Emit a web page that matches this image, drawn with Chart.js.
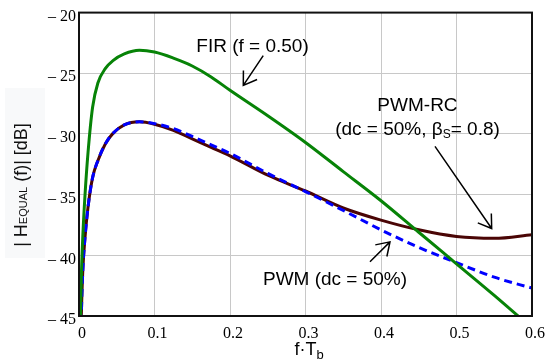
<!DOCTYPE html>
<html>
<head>
<meta charset="utf-8">
<script src="https://cdn.jsdelivr.net/npm/chart.js@4.4.0/dist/chart.umd.min.js"></script>
<style>
    html, body { margin: 0; padding: 0; background: #fff; }
    #wrap { width: 553px; height: 363px; }
</style>
</head>
<body>
<div id="wrap"><canvas id="chart" width="553" height="363"></canvas></div>
<script>
// normalised frequency f*Tb
const freq = [0.001, 0.003, 0.005, 0.008, 0.012, 0.018, 0.025, 0.035, 0.045, 0.06, 0.08, 0.1,
              0.125, 0.15, 0.175, 0.2, 0.25, 0.3, 0.35, 0.4, 0.45, 0.5, 0.55, 0.6];

// |H_EQUAL(f)| in dB
const firDb   = [-48, -42, -38.5, -35, -31.5, -27.8, -25.8, -24.6, -23.95, -23.4, -23.1, -23.25,
                 -23.75, -24.4, -25.3, -26.4, -28.5, -30.7, -33.1, -35.5, -38.1, -40.7, -43.3, -46];
const pwmRcDb = [-52, -45.2, -41.3, -38.5, -36.0, -33.6, -32.2, -30.8, -29.95, -29.25, -29.0, -29.2,
                 -29.7, -30.4, -31.1, -31.8, -33.4, -34.7, -36.1, -37.1, -37.9, -38.45, -38.6, -38.3];
const pwmDb   = [-52, -45.2, -41.3, -38.5, -36.0, -33.6, -32.2, -30.8, -29.95, -29.25, -29.0, -29.15,
                 -29.55, -30.2, -30.9, -31.6, -33.25, -34.75, -36.3, -37.9, -39.35, -40.6, -41.8, -42.7];

const xTicks = [0, 0.1, 0.2, 0.3, 0.4, 0.5, 0.6];
const xTickLabels = ['0', '0.1', '0.2', '0.3', '0.4', '0.5', '0.6'];
const yTicks = [-45, -40, -35, -30, -25, -20];
const yTickLabels = ['\u2013 45', '\u2013 40', '\u2013 35', '\u2013 30', '\u2013 25', '\u2013 20'];

const SANS = '"Liberation Sans", Arial, sans-serif';
const SERIF = '"Liberation Serif", "Times New Roman", serif';

function toPoints(ys) {
    return freq.map((f, i) => ({ x: f, y: ys[i] }));
}

// draw a row of text runs (different sizes / baseline shifts), centred on cx
function drawRuns(ctx, runs, cx, baseline) {
    let total = 0;
    runs.forEach(r => {
        ctx.font = r.size + 'px ' + SANS;
        r.w = ctx.measureText(r.text).width;
        total += r.w;
    });
    let x = cx - total / 2;
    ctx.textAlign = 'left';
    ctx.textBaseline = 'alphabetic';
    runs.forEach(r => {
        ctx.font = r.size + 'px ' + SANS;
        ctx.fillText(r.text, x, baseline + (r.dy || 0));
        x += r.w;
    });
}

function drawArrow(ctx, x1, y1, x2, y2) {
    const ang = Math.atan2(y1 - y2, x1 - x2);
    const len = 15, spread = 0.58;
    ctx.beginPath();
    ctx.moveTo(x1, y1);
    ctx.lineTo(x2, y2);
    ctx.moveTo(x2 + len * Math.cos(ang + spread), y2 + len * Math.sin(ang + spread));
    ctx.lineTo(x2, y2);
    ctx.lineTo(x2 + len * Math.cos(ang - spread), y2 + len * Math.sin(ang - spread));
    ctx.stroke();
}

const decorations = {
    id: 'decorations',
    beforeDraw(chart) {
        const ctx = chart.ctx;
        ctx.save();
        ctx.fillStyle = '#f8f9fa';
        ctx.fillRect(5, 88, 40, 170);
        ctx.restore();
    },
    afterDraw(chart) {
        const ctx = chart.ctx;
        const xs = chart.scales.x, ys = chart.scales.y;
        const a = chart.chartArea;
        const px = v => xs.getPixelForValue(v);
        const py = v => ys.getPixelForValue(v);

        ctx.save();
        // plot frame
        ctx.strokeStyle = '#111';
        ctx.lineWidth = 2;
        ctx.strokeRect(a.left, a.top, a.right - a.left, a.bottom - a.top);

        // annotations
        ctx.fillStyle = '#000';
        drawRuns(ctx, [{ text: 'FIR (f = 0.50)', size: 19 }], px(0.2298), py(-22.71) + 7);
        drawRuns(ctx, [{ text: 'PWM-RC', size: 19 }], px(0.4483), py(-27.51) + 7);
        drawRuns(ctx, [
            { text: '(dc = 50%, \u03b2', size: 19 },
            { text: 'S', size: 12, dy: 3 },
            { text: '= 0.8)', size: 19 }
        ], px(0.4483), py(-29.57) + 6);
        drawRuns(ctx, [{ text: 'PWM (dc = 50%)', size: 19 }], px(0.3391), py(-41.88) + 7);

        ctx.strokeStyle = '#000';
        ctx.lineWidth = 1.5;
        drawArrow(ctx, px(0.244), py(-23.54), px(0.2176), py(-26.0));
        drawArrow(ctx, px(0.4715), py(-31.02), px(0.5466), py(-37.79));
        drawArrow(ctx, px(0.3854), py(-40.53), px(0.4119), py(-38.89));

        // x axis title f·T_b
        drawRuns(ctx, [
            { text: 'f\u00b7T', size: 18 },
            { text: 'b', size: 13, dy: 4 }
        ], 309, 355);

        // y axis title |H_EQUAL (f)| [dB]
        ctx.fillStyle = '#111';
        ctx.translate(21, 185);
        ctx.rotate(-Math.PI / 2);
        drawRuns(ctx, [
            { text: '| H', size: 18 },
            { text: 'EQUAL', size: 11 },
            { text: ' (f)| [dB]', size: 18 }
        ], 0, 6);
        ctx.restore();
    }
};

const ctx = document.getElementById('chart').getContext('2d');
new Chart(ctx, {
    type: 'line',
    data: {
        datasets: [
            {
                label: 'FIR (f = 0.50)',
                data: toPoints(firDb),
                borderColor: '#078307',
                borderWidth: 3,
                order: 0
            },
            {
                label: 'PWM (dc = 50%)',
                data: toPoints(pwmDb),
                borderColor: '#0000ff',
                borderWidth: 3,
                borderDash: [8, 5],
                order: 1
            },
            {
                label: 'PWM-RC (dc = 50%, \u03b2S = 0.8)',
                data: toPoints(pwmRcDb),
                borderColor: '#4a0505',
                borderWidth: 3,
                order: 2
            }
        ]
    },
    options: {
        responsive: false,
        animation: false,
        elements: {
            point: { radius: 0 },
            line: { cubicInterpolationMode: 'monotone' }
        },
        layout: { padding: { top: 12, right: 21, bottom: 0, left: 0 } },
        plugins: {
            legend: { display: false },
            tooltip: { enabled: false }
        },
        scales: {
            x: {
                type: 'linear',
                min: 0,
                max: 0.6,
                afterBuildTicks: axis => { axis.ticks = xTicks.map(v => ({ value: v })); },
                afterFit: scale => { scale.height = 47; },
                grid: { color: '#c8c8c8', lineWidth: 1, drawTicks: false },
                border: { display: false },
                ticks: {
                    padding: 8,
                    labelOffset: 3,
                    maxRotation: 0,
                    color: '#000',
                    font: { family: SERIF, size: 16 },
                    callback: (v, i) => xTickLabels[i]
                }
            },
            y: {
                type: 'linear',
                min: -45,
                max: -20,
                afterBuildTicks: axis => { axis.ticks = yTicks.map(v => ({ value: v })); },
                afterFit: scale => { scale.width = 79; },
                grid: { color: '#c8c8c8', lineWidth: 1, drawTicks: false },
                border: { display: false },
                ticks: {
                    padding: 3,
                    labelOffset: 4,
                    color: '#000',
                    font: { family: SERIF, size: 16 },
                    callback: (v, i) => yTickLabels[i]
                }
            }
        }
    },
    plugins: [decorations]
});
</script>
</body>
</html>
